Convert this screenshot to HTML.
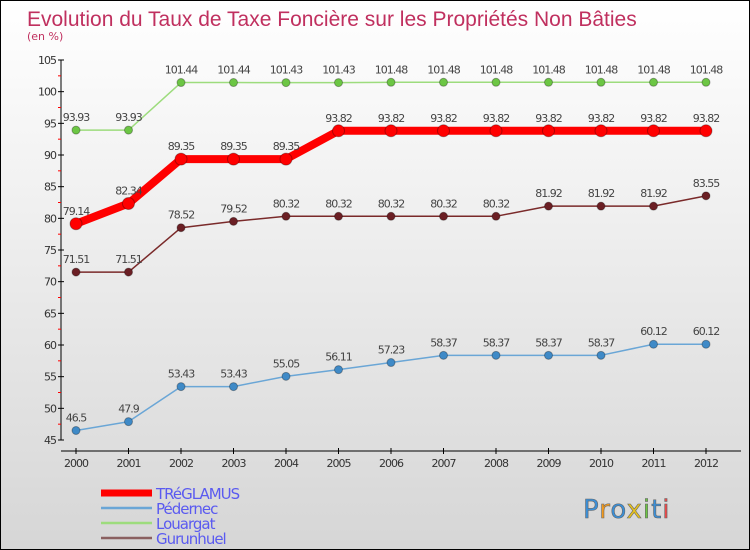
<!DOCTYPE html>
<html><head><meta charset="utf-8"><style>
body{margin:0}
#c{width:748px;height:548px;border:1px solid #000;background:linear-gradient(#fff,#f3f3f3 30%,#d6d6d6);position:relative;overflow:hidden;font-family:"DejaVu Sans","Liberation Sans",sans-serif}
</style></head><body>
<div id="c">
<svg id="s" width="748" height="548"></svg>
</div>
<script>
const years=["2000","2001","2002","2003","2004","2005","2006","2007","2008","2009","2010","2011","2012"];
const treglamus=[79.14,82.34,89.35,89.35,89.35,93.82,93.82,93.82,93.82,93.82,93.82,93.82,93.82];
const pedernec=[46.5,47.9,53.43,53.43,55.05,56.11,57.23,58.37,58.37,58.37,58.37,60.12,60.12];
const louargat=[93.93,93.93,101.44,101.44,101.43,101.43,101.48,101.48,101.48,101.48,101.48,101.48,101.48];
const gurunhuel=[71.51,71.51,78.52,79.52,80.32,80.32,80.32,80.32,80.32,81.92,81.92,81.92,83.55];
const yTicks=[45,50,55,60,65,70,75,80,85,90,95,100,105];
const s=document.getElementById('s');const NS="http://www.w3.org/2000/svg";
function X(i){return 75+i*52.5}
function Y(v){return 59+(105-v)*380/60}
function el(t,a,p,txt){const e=document.createElementNS(NS,t);for(const k in a)e.setAttribute(k,a[k]);if(txt!==undefined)e.textContent=txt;(p||s).appendChild(e);return e}
let t=el('text',{x:26,y:25,'font-size':21,fill:'#c0305f','font-family':'Liberation Sans, sans-serif'},s,'Evolution du Taux de Taxe Foncière sur les Propriétés Non Bâties');

t=el('text',{x:26,y:39,'font-size':11,fill:'#c0305f'},s,'(en %)');

let a=el('line',{x1:60,y1:Y(105),x2:60,y2:Y(45),stroke:'#000'});

yTicks.forEach(v=>{el('line',{x1:57,x2:63,y1:Y(v),y2:Y(v),stroke:'#000'});
 if(v<105)el('line',{x1:57,x2:60,y1:Y(v+2.5),y2:Y(v+2.5),stroke:'#f00'});
 const l=el('text',{x:55,y:Y(v)+4,'font-size':11,fill:'#333','text-anchor':'end','letter-spacing':'-1'},s,v);
 });
a=el('line',{x1:60,y1:450,x2:740,y2:450,stroke:'#000'});

years.forEach((y,i)=>{el('line',{x1:X(i),x2:X(i),y1:447,y2:453,stroke:'#000'});
 const l=el('text',{x:X(i),y:466,'font-size':11,fill:'#333','text-anchor':'middle','letter-spacing':'-1'},s,y);
 });
function series(d,name,color,w,r,fill,lblColor){
 const g=el('g',{});
 const p=el('polyline',{points:d.map((v,i)=>X(i)+','+Y(v)).join(' '),fill:'none',stroke:color,'stroke-width':w,'stroke-linejoin':'round'},g);
 
 d.forEach((v,i)=>{const c=el('circle',{cx:X(i),cy:Y(v),r:r,fill:fill,stroke:'rgba(0,0,0,0.3)'},g);
  
  const l=el('text',{x:X(i),y:Y(v)-9,'font-size':11,fill:lblColor,'text-anchor':'middle','letter-spacing':'-1'},g,v);
  });
}
series(louargat,'louargat','#9ddc7d',1.5,4,'#6cc644','#444');
series(gurunhuel,'gurunhuel','#7a2a2a',1.5,4,'#6b1f24','#444');
series(pedernec,'pedernec','#6aa6d6',1.5,4,'#3f8ac7','#444');
series(treglamus,'treglamus','#f00',8,6,'#f00','#444');
const leg=[['TRéGLAMUS','#f00',7],['Pédernec','#6aa6d6',2.5],['Louargat','#9ddc7d',2.5],['Gurunhuel','#8a6060',2.5]];
leg.forEach((e,i)=>{const y=492+i*15;
 const g=el('g',{});
 el('line',{x1:100,x2:151,y1:y,y2:y,stroke:e[1],'stroke-width':e[2]},g);
 el('text',{x:155,y:y+6,'font-size':15,fill:'#5a5af0','letter-spacing':'-1'},g,e[0]);});
const lg=el('text',{x:582,y:517,'font-size':26,'letter-spacing':'1','stroke':'#666','stroke-width':'0.6'},s);

[['P','#3a8fd8'],['r','#f39a1c'],['o','#3a8fd8'],['x','#e8c21c'],['i','#6cc644'],['t','#3a8fd8'],['i','#e84a4a']].forEach(c=>{el('tspan',{fill:c[1]},lg,c[0]);});
</script>
</body></html>
